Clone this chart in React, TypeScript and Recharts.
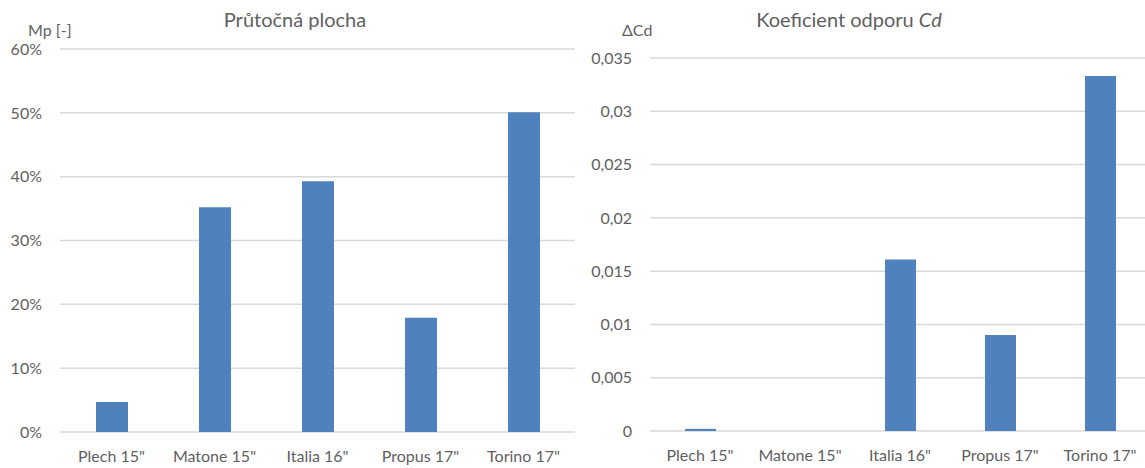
import React from "react";
import { BarChart, Bar, XAxis, YAxis, CartesianGrid } from "recharts";

const categories = ['Plech 15"', 'Matone 15"', 'Italia 16"', 'Propus 17"', 'Torino 17"'];
const flowArea = [0.047, 0.352, 0.393, 0.179, 0.501];
const deltaCd = [0.0002, 0, 0.0161, 0.009, 0.0333];
const flowTicks = [0, 0.1, 0.2, 0.3, 0.4, 0.5, 0.6];
const cdTicks = [0, 0.005, 0.01, 0.015, 0.02, 0.025, 0.03, 0.035];

const FONT = "Lato, 'Open Sans', sans-serif";
const TEXT = "#5f5f5f";
const BAR = "#4F81BD";
const GRID = "#D9D9D9";

const leftData = categories.map((name, i) => ({ name, value: flowArea[i] }));
const rightData = categories.map((name, i) => ({ name, value: deltaCd[i] }));

const tickStyle = { fill: TEXT, fontSize: 16, fontFamily: FONT };

const label = (text: React.ReactNode, x: number, y: number, size: number, center = false) => (
  <div
    style={{
      position: "absolute",
      left: x,
      top: y,
      transform: center ? "translateX(-50%)" : undefined,
      fontFamily: FONT,
      fontSize: size,
      color: TEXT,
      whiteSpace: "nowrap",
      lineHeight: 1,
    }}
  >
    {text}
  </div>
);

export default function App() {
  return (
    <div
      style={{
        position: "absolute",
        left: 0,
        top: 0,
        width: 1145,
        height: 468,
        overflow: "hidden",
        background: "#fff",
      }}
    >
      <div style={{ position: "absolute", left: 0, top: 0 }}>
        <BarChart
          width={580}
          height={468}
          data={leftData}
          margin={{ top: 49, right: 5, left: 10, bottom: 6 }}
        >
          <CartesianGrid vertical={false} stroke={GRID} strokeWidth={1.5} />
          <XAxis
            dataKey="name"
            axisLine={false}
            tickLine={false}
            tick={tickStyle}
            tickMargin={13}
            height={30}
            interval={0}
          />
          <YAxis
            domain={[0, 0.6]}
            ticks={flowTicks}
            axisLine={false}
            tickLine={false}
            tick={tickStyle}
            tickMargin={12}
            width={50}
            tickFormatter={(v: number) => `${Math.round(v * 100)}%`}
          />
          <Bar dataKey="value" fill={BAR} barSize={32} isAnimationActive={false} />
        </BarChart>
      </div>
      <div style={{ position: "absolute", left: 580, top: 0 }}>
        <BarChart
          width={570}
          height={468}
          data={rightData}
          margin={{ top: 58, right: 0, left: 20, bottom: 7 }}
        >
          <CartesianGrid vertical={false} stroke={GRID} strokeWidth={1.5} />
          <XAxis
            dataKey="name"
            axisLine={false}
            tickLine={false}
            tick={tickStyle}
            tickMargin={13}
            height={30}
            interval={0}
          />
          <YAxis
            domain={[0, 0.035]}
            ticks={cdTicks}
            axisLine={false}
            tickLine={false}
            tick={tickStyle}
            tickMargin={12}
            width={50}
            tickFormatter={(v: number) => String(v).replace(".", ",")}
          />
          <Bar dataKey="value" fill={BAR} barSize={31} isAnimationActive={false} />
        </BarChart>
      </div>
      {label("Průtočná plocha", 295, 9, 20, true)}
      {label("Mp [-]", 28, 22, 16)}
      {label(
        <span>
          Koeficient odporu <i>Cd</i>
        </span>,
        849,
        9,
        20,
        true
      )}
      {label("ΔCd", 622, 22, 16)}
    </div>
  );
}
